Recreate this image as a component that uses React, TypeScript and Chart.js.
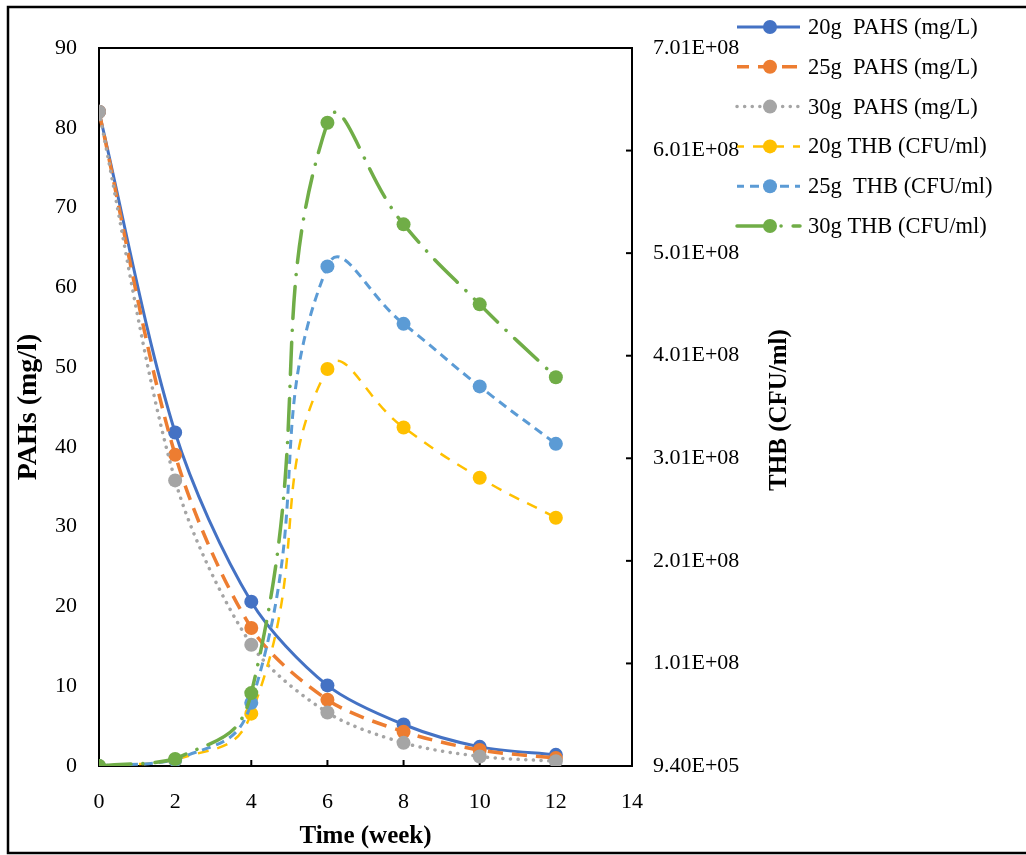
import React, { useEffect, useRef } from "react";
import { Chart, registerables } from "chart.js";

Chart.register(...registerables);

// ---- data ----
const weeks = [0, 2, 4, 6, 8, 10, 12];
const pahs20 = [82, 41.8, 20.6, 10.1, 5.2, 2.4, 1.4];
const pahs25 = [82, 39.0, 17.3, 8.3, 4.3, 2.0, 1.0];
const pahs30 = [82, 35.8, 15.2, 6.7, 2.9, 1.2, 0.6];
const thb20 = [9.4e5, 6.8e6, 5.2e7, 3.88e8, 3.31e8, 2.82e8, 2.43e8];
const thb25 = [9.4e5, 6.8e6, 6.25e7, 4.88e8, 4.32e8, 3.71e8, 3.15e8];
const thb30 = [9.4e5, 7.8e6, 7.2e7, 6.28e8, 5.29e8, 4.51e8, 3.8e8];
const seriesLabels = [
  "20g  PAHS (mg/L)",
  "25g  PAHS (mg/L)",
  "30g  PAHS (mg/L)",
  "20g THB (CFU/ml)",
  "25g  THB (CFU/ml)",
  "30g THB (CFU/ml)",
];
const xTickValues = [0, 2, 4, 6, 8, 10, 12, 14];
const pahTickValues = [0, 10, 20, 30, 40, 50, 60, 70, 80, 90];
const thbTickValues = [9.4e5, 1.0094e8, 2.0094e8, 3.0094e8, 4.0094e8, 5.0094e8, 6.0094e8, 7.0094e8];
const xTitle = "Time (week)";
const yTitle = "PAHs (mg/l)";
const y2Title = "THB (CFU/ml)";

const FONT = '"Liberation Serif", "Times New Roman", serif';

function sci(v: number): string {
  const e = Math.floor(Math.log10(v));
  const m = v / Math.pow(10, e);
  return m.toFixed(2) + "E+" + String(e).padStart(2, "0");
}

const toPts = (ys: number[]) => weeks.map((x, i) => ({ x, y: ys[i] }));

const framePlugin = {
  id: "frame",
  beforeDatasetsDraw(chart: any) {
    const { ctx, chartArea } = chart;
    const { left, right, top, bottom } = chartArea;
    ctx.save();
    ctx.strokeStyle = "#000";
    ctx.lineWidth = 2;
    ctx.strokeRect(left, top, right - left, bottom - top);
    const xs = chart.scales.x;
    xTickValues.forEach((v) => {
      const px = xs.getPixelForValue(v);
      ctx.beginPath();
      ctx.moveTo(px, bottom);
      ctx.lineTo(px, bottom - 6);
      ctx.stroke();
    });
    const y2 = chart.scales.y2;
    thbTickValues.forEach((v) => {
      const py = y2.getPixelForValue(v);
      ctx.beginPath();
      ctx.moveTo(right, py);
      ctx.lineTo(right - 6, py);
      ctx.stroke();
    });
    ctx.restore();
  },
  afterDraw(chart: any) {
    const { ctx, chartArea } = chart;
    ctx.save();
    ctx.strokeStyle = "#000";
    ctx.lineWidth = 2.5;
    ctx.strokeRect(8, 7, 1040, 846);
    ctx.fillStyle = "#000";
    ctx.font = `bold 25px ${FONT}`;
    ctx.textAlign = "center";
    ctx.textBaseline = "middle";
    ctx.translate(780, (chartArea.top + chartArea.bottom) / 2 + 3);
    ctx.rotate(-Math.PI / 2);
    ctx.fillText(y2Title, 0, 0);
    ctx.restore();

    chart.data.datasets.forEach((ds: any, i: number) => {
      const y = 27 + i * 39.8;
      ctx.save();
      ctx.strokeStyle = ds.borderColor;
      ctx.lineWidth = ds.borderWidth;
      ctx.lineCap = ds.borderCapStyle || "butt";
      ctx.setLineDash(ds.borderDash || []);
      ctx.lineDashOffset = ds.legendDashOffset || 0;
      ctx.beginPath();
      ctx.moveTo(737, y);
      ctx.lineTo(800, y);
      ctx.stroke();
      ctx.setLineDash([]);
      ctx.fillStyle = ds.pointBackgroundColor;
      ctx.beginPath();
      ctx.arc(770, y, 7, 0, Math.PI * 2);
      ctx.fill();
      ctx.fillStyle = "#000";
      ctx.font = `22.5px ${FONT}`;
      ctx.textAlign = "left";
      ctx.textBaseline = "middle";
      ctx.fillText(ds.label, 808, y + 1);
      ctx.restore();
    });
  },
};

function makeDs(label: string, data: number[], color: string, axis: string, dash: number[], width: number, order: number, tension: number, cap = "butt", legendDashOffset = 0) {
  return {
    label,
    data: toPts(data),
    yAxisID: axis,
    borderColor: color,
    backgroundColor: color,
    pointBackgroundColor: color,
    pointBorderColor: color,
    pointBorderWidth: 0,
    pointRadius: 7,
    pointHoverRadius: 7,
    borderWidth: width,
    borderDash: dash,
    borderCapStyle: cap,
    legendDashOffset,
    tension,
    fill: false,
    order,
  };
}

export default function App() {
  const ref = useRef<HTMLCanvasElement | null>(null);
  useEffect(() => {
    if (!ref.current) return;
    const chart = new Chart(ref.current, {
      type: "line",
      data: {
        datasets: [
          makeDs(seriesLabels[0], pahs20, "#4472C4", "y", [], 3, 6, 0.3),
          makeDs(seriesLabels[1], pahs25, "#ED7D31", "y", [15, 9], 3.5, 5, 0.3, "butt", 3),
          makeDs(seriesLabels[2], pahs30, "#A5A5A5", "y", [0.1, 7.5], 3.5, 4, 0.3, "round", 0),
          makeDs(seriesLabels[3], thb20, "#FFC000", "y2", [11, 9], 2.5, 3, 0.5, "butt", 4),
          makeDs(seriesLabels[4], thb25, "#5B9BD5", "y2", [9, 6], 3, 2, 0.5, "butt", 2),
          makeDs(seriesLabels[5], thb30, "#70AD47", "y2", [32, 12, 0.1, 12], 3.5, 1, 0.5, "round", 0),
        ] as any,
      },
      options: {
        responsive: false,
        devicePixelRatio: 1,
        animation: false,
        events: [],
        layout: { padding: { top: 48, left: 0, right: 0, bottom: 0 } },
        plugins: {
          legend: { display: false },
          title: { display: false },
          tooltip: { enabled: false },
        },
        scales: {
          x: {
            type: "linear",
            min: 0,
            max: 14,
            afterBuildTicks: (s: any) => {
              s.ticks = xTickValues.map((v) => ({ value: v }));
            },
            afterFit: (s: any) => {
              s.height = 89;
            },
            grid: { display: false, drawTicks: false },
            border: { display: false },
            ticks: {
              color: "#000",
              font: { family: FONT, size: 22 },
              padding: 23,
              maxRotation: 0,
              autoSkip: false,
            },
            title: {
              display: true,
              text: xTitle,
              color: "#000",
              font: { family: FONT, size: 25, weight: "bold" },
              padding: { top: 0, bottom: 3 },
            },
          },
          y: {
            type: "linear",
            position: "left",
            min: 0,
            max: 90,
            afterBuildTicks: (s: any) => {
              s.ticks = pahTickValues.map((v) => ({ value: v }));
            },
            afterFit: (s: any) => {
              s.width = 99;
            },
            grid: { display: false, drawTicks: false },
            border: { display: false },
            ticks: {
              color: "#000",
              font: { family: FONT, size: 22 },
              padding: 22,
            },
            title: {
              display: true,
              text: yTitle,
              color: "#000",
              font: { family: FONT, size: 28, weight: "bold" },
              padding: { top: 12, bottom: 0 },
            },
          },
          y2: {
            type: "linear",
            position: "right",
            min: thbTickValues[0],
            max: thbTickValues[thbTickValues.length - 1],
            afterBuildTicks: (s: any) => {
              s.ticks = thbTickValues.map((v) => ({ value: v }));
            },
            afterFit: (s: any) => {
              s.width = 394;
            },
            grid: { display: false, drawTicks: false },
            border: { display: false },
            ticks: {
              color: "#000",
              font: { family: FONT, size: 22 },
              padding: 21,
              callback: (v: any) => sci(Number(v)),
            },
          },
        },
      } as any,
      plugins: [framePlugin],
    });
    return () => chart.destroy();
  }, []);
  return (
    <div style={{ position: "fixed", left: 0, top: 0, width: 1026, height: 855, background: "#fff" }}>
      <canvas ref={ref} width={1026} height={855} style={{ display: "block" }} />
    </div>
  );
}
